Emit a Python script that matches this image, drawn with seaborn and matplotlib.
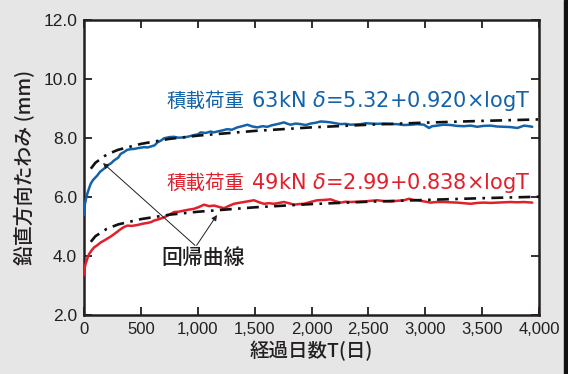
import numpy as np
import pandas as pd
import seaborn as sns
import matplotlib
matplotlib.use("Agg")
import matplotlib.pyplot as plt
from matplotlib.patches import Rectangle

# measured deflection, 63kN (blue)
t_63 = [0, 8, 18, 29, 45, 59, 80, 100, 117, 140, 176, 210, 240, 264, 300, 322, 350, 381,
        410, 440, 480, 527, 560, 586, 620, 645, 680, 703, 750, 791, 830, 879, 920, 967,
        1000, 1025, 1070, 1113, 1140, 1172, 1220, 1260, 1300, 1348, 1390, 1436, 1480, 1524,
        1570, 1612, 1650, 1699, 1730, 1758, 1790, 1817, 1860, 1905, 1950, 1992, 2040, 2080,
        2120, 2168, 2210, 2256, 2300, 2344, 2390, 2432, 2480, 2520, 2580, 2637, 2700, 2754,
        2810, 2871, 2930, 2989, 3033, 3060, 3106, 3160, 3223, 3280, 3340, 3400, 3457, 3510,
        3575, 3630, 3692, 3750, 3809, 3840, 3868, 3910, 3941]
d_63 = [5.40, 5.75, 5.95, 6.11, 6.30, 6.45, 6.58, 6.66, 6.73, 6.85, 6.96, 7.08, 7.15, 7.24, 7.33, 7.46, 7.52, 7.60,
        7.62, 7.63, 7.66, 7.69, 7.68, 7.71, 7.75, 7.85, 7.92, 7.99, 8.03, 8.04, 8.01, 8.02, 8.05, 8.10,
        8.12, 8.19, 8.17, 8.22, 8.19, 8.22, 8.26, 8.30, 8.28, 8.36, 8.40, 8.45, 8.39, 8.36,
        8.40, 8.38, 8.43, 8.47, 8.50, 8.53, 8.48, 8.45, 8.49, 8.47, 8.44, 8.49, 8.52, 8.56,
        8.55, 8.53, 8.50, 8.47, 8.48, 8.45, 8.46, 8.47, 8.50, 8.49, 8.48, 8.49, 8.47, 8.47,
        8.44, 8.45, 8.47, 8.45, 8.34, 8.40, 8.42, 8.45, 8.44, 8.41, 8.40, 8.42, 8.38, 8.41,
        8.42, 8.39, 8.38, 8.37, 8.34, 8.38, 8.42, 8.40, 8.38]

# measured deflection, 49kN (red)
t_49 = [0, 8, 15, 23, 33, 44, 65, 88, 115, 147, 175, 205, 235, 264, 295, 322, 350, 381,
        420, 469, 510, 557, 590, 615, 660, 703, 750, 791, 830, 879, 920, 967, 1010, 1055,
        1100, 1143, 1190, 1231, 1275, 1319, 1360, 1406, 1450, 1494, 1540, 1582, 1625, 1670,
        1715, 1758, 1800, 1846, 1890, 1934, 1990, 2051, 2110, 2168, 2210, 2256, 2300, 2344,
        2400, 2461, 2520, 2578, 2640, 2696, 2750, 2813, 2857, 2900, 2930, 2990, 3047, 3100,
        3164, 3220, 3282, 3340, 3399, 3460, 3516, 3575, 3633, 3690, 3750, 3810, 3868, 3941]
d_49 = [3.35, 3.62, 3.75, 3.83, 3.96, 4.06, 4.18, 4.29, 4.36, 4.46, 4.52, 4.59, 4.66, 4.74, 4.83, 4.91, 4.98, 5.03,
        5.02, 5.05, 5.09, 5.12, 5.15, 5.20, 5.25, 5.31, 5.40, 5.49, 5.50, 5.54, 5.57, 5.60, 5.66, 5.74,
        5.69, 5.71, 5.66, 5.62, 5.70, 5.77, 5.80, 5.83, 5.86, 5.89, 5.82, 5.77, 5.79, 5.77,
        5.80, 5.83, 5.79, 5.74, 5.76, 5.77, 5.83, 5.89, 5.90, 5.92, 5.86, 5.81, 5.84, 5.83,
        5.84, 5.85, 5.87, 5.89, 5.86, 5.85, 5.87, 5.89, 5.94, 5.90, 5.89, 5.85, 5.81, 5.83,
        5.83, 5.82, 5.81, 5.79, 5.77, 5.80, 5.81, 5.80, 5.81, 5.82, 5.83, 5.82, 5.83, 5.81]

# regression curves
t_reg = [60, 100, 200, 300, 500, 750, 1000, 1500, 2000, 2500, 3000, 3500, 4000]
reg_63 = [6.96, 7.16, 7.44, 7.60, 7.80, 7.97, 8.08, 8.24, 8.36, 8.45, 8.52, 8.58, 8.63]
reg_49 = [4.48, 4.67, 4.92, 5.07, 5.25, 5.40, 5.50, 5.65, 5.76, 5.84, 5.90, 5.96, 6.01]

x_ticks = [0, 500, 1000, 1500, 2000, 2500, 3000, 3500, 4000]
x_labels = ["0", "500", "1,000", "1,500", "2,000", "2,500", "3,000", "3,500", "4,000"]
y_ticks = [2.0, 4.0, 6.0, 8.0, 10.0, 12.0]

blue = "#1462aa"
red = "#e1202b"
ink = "#231f20"

sns.set_style("ticks")
plt.rcParams["font.family"] = ["Noto Sans CJK JP", "DejaVu Sans"]

fig = plt.figure(figsize=(5.68, 3.74), dpi=100, facecolor="#e6e6e6")
ax = fig.add_axes([84 / 568, 59 / 374, 455 / 568, 295 / 374])
ax.set_facecolor("white")

sns.lineplot(x=t_63, y=d_63, ax=ax, color=blue, lw=1.8, zorder=3)
sns.lineplot(x=t_49, y=d_49, ax=ax, color=red, lw=1.8, zorder=3)
sns.lineplot(x=t_reg, y=reg_63, ax=ax, color="#111111", lw=1.9,
             linestyle=(0, (4.5, 2.4, 1, 2.4)), zorder=4)
sns.lineplot(x=t_reg, y=reg_49, ax=ax, color="#111111", lw=1.9,
             linestyle=(0, (4.5, 2.4, 1, 2.4)), zorder=4)

ax.set_xlim(0, 4000)
ax.set_ylim(2.0, 12.0)
ax.set_xticks(x_ticks)
ax.set_xticklabels(x_labels, family="Liberation Sans", fontsize=12)
ax.set_yticks(y_ticks)
ax.set_yticklabels([f"{v:.1f}" for v in y_ticks], family="Liberation Sans", fontsize=12.5)
ax.tick_params(direction="in", length=6, width=1.3, top=True, right=True,
               colors=ink, pad=5)
for s in ax.spines.values():
    s.set_linewidth(1.8)
    s.set_color(ink)

ax.set_xlabel("経過日数T(日)", fontsize=14, color=ink, labelpad=3, fontweight="medium")
ax.set_ylabel("鉛直方向たわみ (mm)", fontsize=14.3, color=ink, labelpad=6, fontweight="medium")

# equation labels: latin part in DejaVu (with italic delta), CJK part next to it
for y, eq, c in [(9.25, " 63kN $\\delta$=5.32+0.920×logT", blue),
                 (6.47, " 49kN $\\delta$=2.99+0.838×logT", red)]:
    t = ax.text(3921, y, eq, color=c, fontsize=15, ha="right", va="center",
                family="DejaVu Sans")
    ax.annotate("積載荷重", xy=(0, 0.5), xycoords=t, color=c, fontsize=14,
                ha="right", va="center", family="Noto Sans CJK JP")

ax.text(1046, 3.93, "回帰曲線", color=ink, fontsize=15, ha="center", va="center",
        fontweight="medium")
ax.annotate("", xy=(167, 7.15), xytext=(976, 4.36),
            arrowprops=dict(arrowstyle="-|>", lw=0.7, color=ink,
                            mutation_scale=8, shrinkA=0, shrinkB=0))
ax.annotate("", xy=(1169, 5.39), xytext=(990, 4.36),
            arrowprops=dict(arrowstyle="-|>", lw=0.7, color=ink,
                            mutation_scale=8, shrinkA=0, shrinkB=0))

# dark strip at the right edge
fig.patches.append(Rectangle((564 / 568, 0), 4 / 568, 1, transform=fig.transFigure,
                             color="#111111", zorder=0))

fig.savefig("out.png", dpi=100, facecolor=fig.get_facecolor())
